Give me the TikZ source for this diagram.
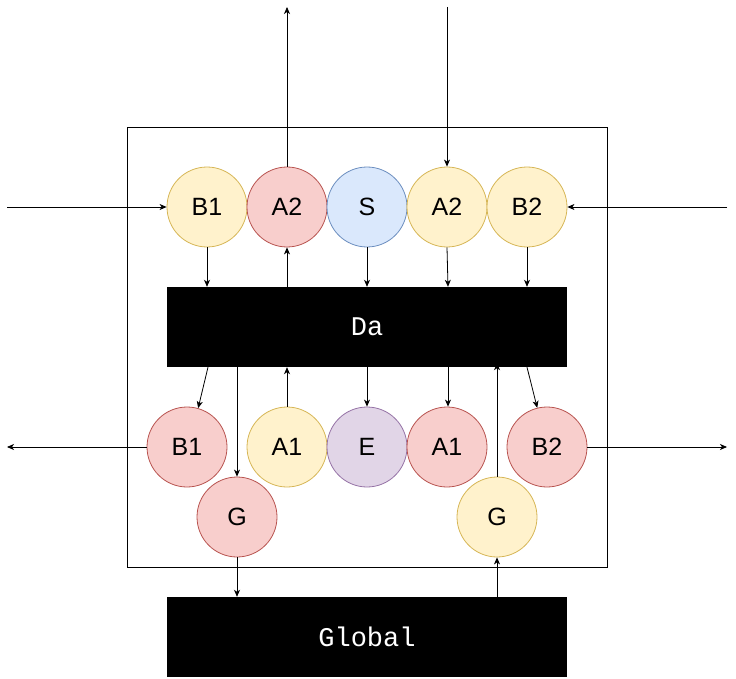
\documentclass[tikz,border=0pt]{standalone}
\usepackage{fontspec}
\setmainfont{Liberation Sans}
\newfontfamily\boxfont{Liberation Mono}
\usetikzlibrary{arrows.meta}
\definecolor{yfill}{HTML}{FFF2CC}\definecolor{ydraw}{HTML}{D6B656}
\definecolor{rfill}{HTML}{F8CECC}\definecolor{rdraw}{HTML}{B85450}
\definecolor{bfill}{HTML}{DAE8FC}\definecolor{bdraw}{HTML}{6C8EBF}
\definecolor{pfill}{HTML}{E1D5E7}\definecolor{pdraw}{HTML}{9673A6}
\begin{document}
\begin{tikzpicture}[x=1pt,y=-1pt,
  ball/.style={circle,minimum size=80pt,inner sep=0pt,line width=0.8pt,font=\fontsize{25}{27}\selectfont},
  yb/.style={ball,fill=yfill,draw=ydraw},
  rb/.style={ball,fill=rfill,draw=rdraw},
  bb/.style={ball,fill=bfill,draw=bdraw},
  pb/.style={ball,fill=pfill,draw=pdraw},
  blk/.style={fill=black,minimum width=400pt,minimum height=80pt,inner sep=0pt,text=white,font=\boxfont\fontsize{27}{29}\selectfont},
  arr/.style={-{Stealth[length=7pt,width=6pt,inset=2pt]},line width=0.8pt}]
\useasboundingbox (0,0) rectangle (736,679);
\draw[line width=0.8pt] (127,127) rectangle (607,567);
% top row
\node[yb] (B1t) at (207,207) {B1};
\node[rb] (A2r) at (287,207) {A2};
\node[bb] (S) at (367,207) {S};
\node[yb] (A2y) at (447,207) {A2};
\node[yb] (B2t) at (527,207) {B2};
% Da
\node[blk] (Da) at (367,327) {Da};
% bottom row
\node[rb] (B1b) at (187,447) {B1};
\node[yb] (A1y) at (287,447) {A1};
\node[pb] (E) at (367,447) {E};
\node[rb] (A1r) at (447,447) {A1};
\node[rb] (B2b) at (547,447) {B2};
\node[rb] (Gr) at (237,517) {G};
\node[yb] (Gy) at (497,517) {G};
% Global
\node[blk] (Gl) at (367,637) {Global};
% free ends
\coordinate (inL) at (7,207);
\coordinate (inR) at (727,207);
\coordinate (outT) at (287,7);
\coordinate (inT) at (447,7);
\coordinate (outL) at (7,447);
\coordinate (outR) at (727,447);
% connectors
\draw[arr] (inL) -- (B1t.west);
\draw[arr] (inR) -- (B2t.east);
\draw[arr] (A2r.north) -- (outT);
\draw[arr] (inT) -- (A2y.north);
\draw[arr] (B1t.south) -- (B1t.south |- Da.north);
\draw[arr] (A2r.south |- Da.north) -- (A2r.south);
\draw[arr] (S.south) -- (S.south |- Da.north);
\draw[arr] (A2y.south) -- ([xshift=1pt]A2y.south |- Da.north);
\draw[arr] (B2t.south) -- (B2t.south |- Da.north);
\draw[arr] (Da.south -| 208,0) -- (B1b.74);
\draw[arr] (Da.south -| Gr.north) -- (Gr.north);
\draw[arr] (A1y.north) -- (A1y.north |- Da.south);
\draw[arr] (Da.south -| E.north) -- (E.north);
\draw[arr] ([xshift=1pt]Da.south -| A1r.north) -- ([xshift=1pt]A1r.north);
\draw[arr] (Gy.north) -- ([yshift=4pt]Gy.north |- Da.south);
\draw[arr] (Da.south -| 527,0) -- (B2b.104);
\draw[arr] (B1b.west) -- (outL);
\draw[arr] (B2b.east) -- (outR);
\draw[arr] (Gr.south) -- (Gr.south |- Gl.north);
\draw[arr] (Gy.south |- Gl.north) -- (Gy.south);
\end{tikzpicture}
\end{document}
